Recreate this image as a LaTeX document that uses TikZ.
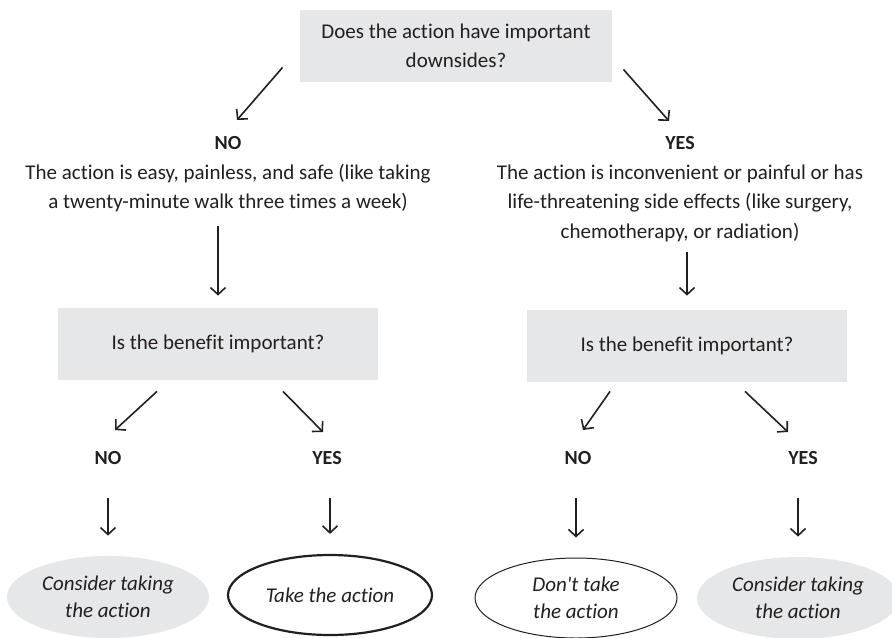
\documentclass[tikz,border=0pt]{standalone}
\usepackage{fontspec}
\setmainfont{Carlito}[Ligatures={NoCommon}]
\usetikzlibrary{positioning}
\usetikzlibrary{shapes.geometric, arrows.meta}

\definecolor{boxgray}{HTML}{E6E7E8}
\definecolor{ink}{HTML}{231F20}

\tikzset{
  question/.style={fill=boxgray, minimum width=160pt, minimum height=36pt, inner sep=0pt, align=center, text=ink},
  answer/.style={font=\bfseries, text=ink},
  reason/.style={align=center, text=ink},
  outcome/.style={ellipse, minimum width=101pt, minimum height=40pt, inner sep=0pt, align=center, font=\itshape\fontsize{10.5}{13.5}\selectfont, text=ink},
  arr/.style={draw=ink, line width=0.8pt, -{Straight Barb[length=3.5pt,width=7.5pt]}},
}

\begin{document}
\begin{tikzpicture}[x=0.5pt, y=-0.5pt, font=\fontsize{10.5}{14.75}\selectfont]
		\useasboundingbox (0,0) rectangle (892,637);

		\node[question, minimum width=156pt] (top) at (456,46) {Does the action have important\\downsides?};

		\node[answer] (no1) at (228,143) {NO};
		\node[reason] (easy) at (228,188) {The action is easy, painless, and safe (like taking\\a twenty-minute walk three times a week)};
		\node[answer] (yes1) at (680,143) {YES};
		\node[reason] (hard) at (680,203) {The action is inconvenient or painful or has\\life-threatening side effects (like surgery,\\chemotherapy, or radiation)};

		\node[question] (ben1) at (218,344) {Is the benefit important?};
		\node[question] (ben2) at (687,346) {Is the benefit important?};

		\node[answer] (no2) at (108,458) {NO};
		\node[answer] (yes2) at (327,458) {YES};
		\node[answer] (no3) at (578,458) {NO};
		\node[answer] (yes3) at (803,458) {YES};

		\node[outcome, fill=boxgray, minimum height=41pt] (e1) at (108,597) {Consider taking\\the action};
		\node[outcome, draw=ink, line width=1.1pt, minimum width=102pt] (e2) at (330,595) {Take the action};
		\node[outcome, draw=ink, line width=0.5pt] (e3) at (576,598) {Don\textquotesingle t take\\the action};
		\node[outcome, fill=boxgray, minimum height=41pt] (e4) at (798,598) {Consider taking\\the action};

		% first question
		\draw[arr] ([xshift=-8.5pt,yshift=7.5pt]top.south west) -- ([xshift=4.5pt,yshift=11.5pt]no1.center);
		\draw[arr] ([xshift=5.5pt,yshift=6.5pt]top.south east) -- ([xshift=-5.5pt,yshift=11pt]yes1.center);
		\draw[arr, shorten <=3.5pt, shorten >=6pt] (ben1.north |- easy.south) -- (ben1.north);
		\draw[arr, shorten <=1.5pt, shorten >=7pt] (ben2.north |- hard.south) -- (ben2.north);

		% second questions
		\draw[arr] ([xshift=-30.5pt,yshift=-5.5pt]ben1.south) -- ([xshift=3.5pt,yshift=14pt]no2.center);
		\draw[arr] ([xshift=32.5pt,yshift=-5.5pt]ben1.south) -- ([xshift=-2pt,yshift=13pt]yes2.center);
		\draw[arr] ([xshift=-38.5pt,yshift=-4.5pt]ben2.south) -- ([xshift=2.5pt,yshift=14pt]no3.center);
		\draw[arr] ([xshift=29pt,yshift=-4.5pt]ben2.south) -- ([xshift=-7.5pt,yshift=13pt]yes3.center);

		\foreach \a/\b in {no2/e1, yes2/e2, no3/e3, yes3/e4}
			\draw[arr, shorten <=13pt, shorten >=10pt] (\b.north |- \a.south) -- (\b.north);
	\end{tikzpicture}
\end{document}
